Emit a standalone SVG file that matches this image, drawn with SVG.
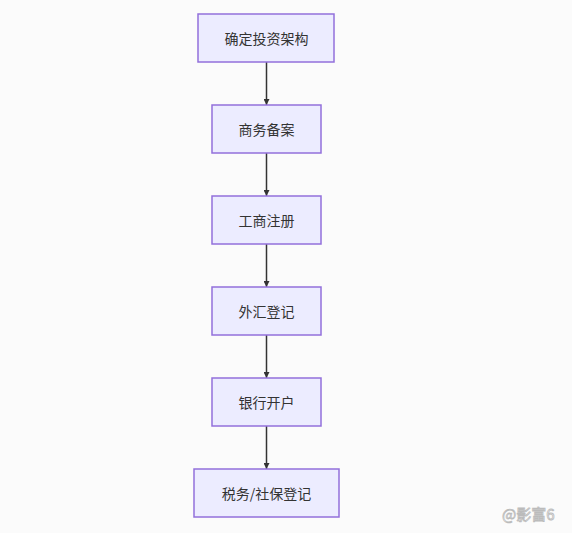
<svg xmlns="http://www.w3.org/2000/svg" width="572" height="533" viewBox="0 0 572 533">
<defs>
<style>
.node rect{fill:#ECECFF;stroke:#9370DB;stroke-width:1.5}
.node text{font-family:"Noto Sans CJK SC","Liberation Sans",sans-serif;font-size:14px;fill:#333;text-anchor:middle;dominant-baseline:central}
.edge{stroke:#333;stroke-width:1.5;fill:none}
.wm{font-family:"Noto Sans CJK SC","Liberation Sans",sans-serif;font-size:15px;fill:#fff;stroke:#bbb;stroke-width:0.8}
</style>
<marker id="arr" viewBox="0 0 10 10" refX="10" refY="5" markerWidth="6" markerHeight="6" markerUnits="userSpaceOnUse" orient="auto">
<path d="M0,0 L10,5 L0,10 z" fill="#333"/>
</marker>
</defs>
<rect width="572" height="533" fill="#fbfbfb"/>
<g id="edges">
<line class="edge" x1="266.5" y1="62" x2="266.5" y2="105" marker-end="url(#arr)"/>
<line class="edge" x1="266.5" y1="153" x2="266.5" y2="196" marker-end="url(#arr)"/>
<line class="edge" x1="266.5" y1="244" x2="266.5" y2="287" marker-end="url(#arr)"/>
<line class="edge" x1="266.5" y1="335" x2="266.5" y2="378" marker-end="url(#arr)"/>
<line class="edge" x1="266.5" y1="426" x2="266.5" y2="469" marker-end="url(#arr)"/>
</g>
<g id="n1" class="node"><rect x="198" y="14" width="136" height="48"/><text x="266.5" y="38">确定投资架构</text></g>
<g id="n2" class="node"><rect x="212" y="105" width="109" height="48"/><text x="266.5" y="129">商务备案</text></g>
<g id="n3" class="node"><rect x="212" y="196" width="109" height="48"/><text x="266.5" y="220">工商注册</text></g>
<g id="n4" class="node"><rect x="212" y="287" width="109" height="48"/><text x="266.5" y="311">外汇登记</text></g>
<g id="n5" class="node"><rect x="212" y="378" width="109" height="48"/><text x="266.5" y="402">银行开户</text></g>
<g id="n6" class="node"><rect x="194" y="469" width="145" height="48"/><text x="266.5" y="493">税务/社保登记</text></g>
<text class="wm" x="502" y="520">@影富6</text>
</svg>
